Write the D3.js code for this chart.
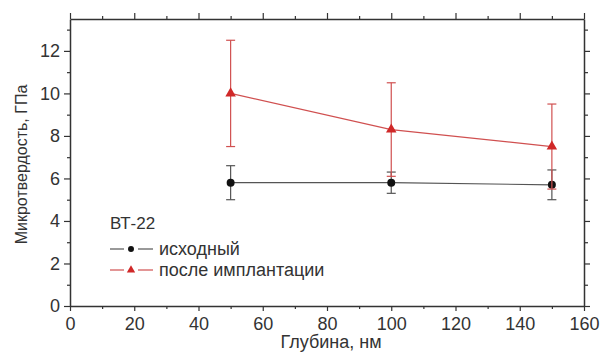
<!DOCTYPE html>
<html>
<head>
<meta charset="utf-8">
<script src="https://cdn.jsdelivr.net/npm/d3@7"></script>
<style>
  body { margin: 0; background: #fff; }
  svg { display: block; font-family: "Liberation Sans", Arial, sans-serif; }
</style>
</head>
<body>
<figure id="chart" style="margin:0"></figure>
<script>
// depth, nm
const depth = [50, 100, 150];
// microhardness, GPa
const hardnessInitial = [5.8, 5.8, 5.7];
const errInitial = [0.8, 0.5, 0.7];
const hardnessImplanted = [10.0, 8.3, 7.5];
const errImplanted = [2.5, 2.2, 2.0];

const xTicks = [0, 20, 40, 60, 80, 100, 120, 140, 160];
const xMinor = [10, 30, 50, 70, 90, 110, 130, 150];
const yTicks = [0, 2, 4, 6, 8, 10, 12];
const yMinor = [1, 3, 5, 7, 9, 11, 13];

const seriesNames = ["исходный", "после имплантации"];

const width = 600, height = 353;
const margin = { top: 19, right: 16, bottom: 47, left: 70 };

const svg = d3.select("figure#chart")
  .append("svg")
  .attr("width", width)
  .attr("height", height);

const x = d3.scaleLinear().domain([0, 160]).range([margin.left, width - margin.right]);
const y = d3.scaleLinear().domain([0, 13.5]).range([height - margin.bottom, margin.top]);

const axisColor = "#333";
const black = "#111", blackLine = "#555";
const red = "#d02828", redLine = "#d05050";

// axes: major ticks with labels, minor ticks without
function styleAxis(g) {
  g.select(".domain").attr("stroke", axisColor).attr("stroke-width", 1.5);
  g.selectAll(".tick line").attr("stroke", axisColor).attr("stroke-width", 1.2);
  g.selectAll("text").attr("fill", "#333").style("font-size", "18px");
}
function minorTicks(g) {
  g.select(".domain").remove();
  g.selectAll("line").attr("stroke", axisColor).attr("stroke-width", 1.2);
}

const axBottom = svg.append("g").attr("transform", `translate(0,${y(0)})`)
  .call(d3.axisBottom(x).tickValues(xTicks).tickSize(5).tickPadding(6).tickSizeOuter(0));
styleAxis(axBottom);
svg.append("g").attr("transform", `translate(0,${y(0)})`)
  .call(d3.axisBottom(x).tickValues(xMinor).tickSize(3).tickFormat("").tickSizeOuter(0))
  .call(minorTicks);

const axTop = svg.append("g").attr("transform", `translate(0,${y(13.5)})`)
  .call(d3.axisTop(x).tickValues(xTicks).tickSize(6).tickFormat("").tickSizeOuter(0));
styleAxis(axTop);
svg.append("g").attr("transform", `translate(0,${y(13.5)})`)
  .call(d3.axisTop(x).tickValues(xMinor).tickSize(3).tickFormat("").tickSizeOuter(0))
  .call(minorTicks);

const axLeft = svg.append("g").attr("transform", `translate(${x(0)},0)`)
  .call(d3.axisLeft(y).tickValues(yTicks).tickSize(6).tickPadding(4).tickSizeOuter(0));
styleAxis(axLeft);
svg.append("g").attr("transform", `translate(${x(0)},0)`)
  .call(d3.axisLeft(y).tickValues(yMinor).tickSize(3).tickFormat("").tickSizeOuter(0))
  .call(minorTicks);

const axRight = svg.append("g").attr("transform", `translate(${x(160)},0)`)
  .call(d3.axisRight(y).tickValues(yTicks).tickSize(6).tickFormat("").tickSizeOuter(0));
styleAxis(axRight);
svg.append("g").attr("transform", `translate(${x(160)},0)`)
  .call(d3.axisRight(y).tickValues(yMinor).tickSize(4).tickFormat("").tickSizeOuter(0))
  .call(minorTicks);

// axis titles
svg.append("text")
  .attr("x", (x(0) + x(160)) / 2 + 4)
  .attr("y", 348)
  .attr("text-anchor", "middle")
  .attr("fill", "#333")
  .style("font-size", "18px")
  .text("Глубина, нм");

svg.append("text")
  .attr("transform", `translate(27,${(y(0) + y(13.5)) / 2 + 2}) rotate(-90)`)
  .attr("text-anchor", "middle")
  .attr("fill", "#333")
  .style("font-size", "16px")
  .text("Микротвердость, ГПа");

// series
const series = [
  { name: seriesNames[0], values: hardnessInitial, err: errInitial, line: blackLine, mark: black, shape: "dot" },
  { name: seriesNames[1], values: hardnessImplanted, err: errImplanted, line: redLine, mark: red, shape: "tri" }
];

const lineGen = d3.line().x(d => x(d[0])).y(d => y(d[1]));
const capW = 4.5;

series.forEach(s => {
  const pts = depth.map((d, i) => [d, s.values[i], s.err[i]]);
  const g = svg.append("g");

  g.append("path")
    .datum(pts)
    .attr("d", lineGen)
    .attr("fill", "none")
    .attr("stroke", s.line)
    .attr("stroke-width", 1.2);

  // error bars
  const eb = g.selectAll(".eb").data(pts).enter().append("g");
  eb.append("line")
    .attr("x1", d => x(d[0])).attr("x2", d => x(d[0]))
    .attr("y1", d => y(d[1] + d[2])).attr("y2", d => y(d[1] - d[2]))
    .attr("stroke", s.line).attr("stroke-width", 1.2);
  eb.append("line")
    .attr("x1", d => x(d[0]) - capW).attr("x2", d => x(d[0]) + capW)
    .attr("y1", d => y(d[1] + d[2])).attr("y2", d => y(d[1] + d[2]))
    .attr("stroke", s.line).attr("stroke-width", 1.2);
  eb.append("line")
    .attr("x1", d => x(d[0]) - capW).attr("x2", d => x(d[0]) + capW)
    .attr("y1", d => y(d[1] - d[2])).attr("y2", d => y(d[1] - d[2]))
    .attr("stroke", s.line).attr("stroke-width", 1.2);

  const sym = s.shape === "dot" ? d3.symbol(d3.symbolCircle, 50) : d3.symbol(d3.symbolTriangle, 48);
  g.selectAll(".mk").data(pts).enter().append("path")
    .attr("d", sym)
    .attr("transform", d => `translate(${x(d[0])},${y(d[1])})`)
    .attr("fill", s.mark);
});

// legend
svg.append("text")
  .attr("x", 110).attr("y", 229)
  .attr("fill", "#333")
  .style("font-size", "17px")
  .text("ВТ-22");

series.forEach((s, i) => {
  const ly = 249 + i * 21;
  const lg = svg.append("g");
  lg.append("line").attr("x1", 110).attr("x2", 124).attr("y1", ly).attr("y2", ly)
    .attr("stroke", s.line).attr("stroke-width", 1.2);
  lg.append("line").attr("x1", 138).attr("x2", 153).attr("y1", ly).attr("y2", ly)
    .attr("stroke", s.line).attr("stroke-width", 1.2);
  const sym = s.shape === "dot" ? d3.symbol(d3.symbolCircle, 28) : d3.symbol(d3.symbolTriangle, 30);
  lg.append("path").attr("d", sym).attr("transform", `translate(131,${ly})`).attr("fill", s.mark);
  lg.append("text")
    .attr("x", 159).attr("y", ly + 6)
    .attr("fill", "#333")
    .style("font-size", "18px")
    .text(s.name);
});
</script>
</body>
</html>
